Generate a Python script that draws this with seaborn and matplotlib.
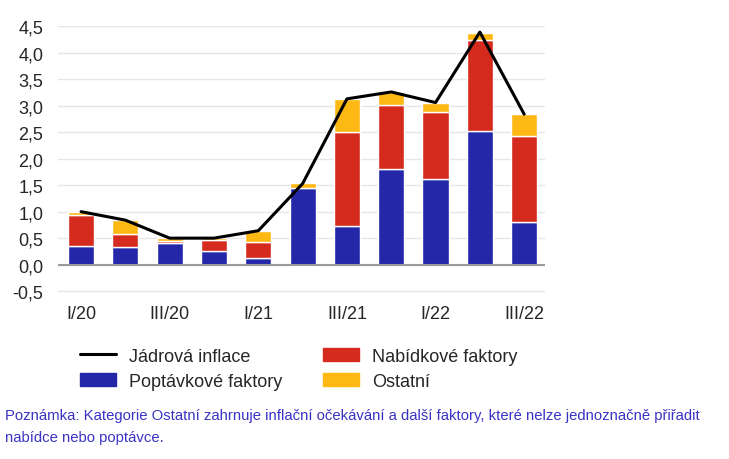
import numpy as np
import pandas as pd
import matplotlib
matplotlib.use("Agg")
import matplotlib.pyplot as plt
import seaborn as sns
from matplotlib.patches import Patch
from matplotlib.lines import Line2D

# Data
kvartaly = ['I/20', 'II/20', 'III/20', 'IV/20', 'I/21', 'II/21', 'III/21', 'IV/21', 'I/22', 'II/22', 'III/22']
poptavkove = [0.36, 0.33, 0.41, 0.26, 0.13, 1.45, 0.73, 1.81, 1.61, 2.53, 0.81]
nabidkove = [0.57, 0.255, 0.04, 0.20, 0.29, -0.03, 1.77, 1.21, 1.27, 1.72, 1.61]
ostatni = [0.07, 0.25, 0.05, 0.04, 0.22, 0.10, 0.63, 0.23, 0.18, 0.13, 0.43]
jadrova = [1.0, 0.84, 0.5, 0.5, 0.64, 1.53, 3.13, 3.26, 3.06, 4.39, 2.84]
popisky = ['I/20', '', 'III/20', '', 'I/21', '', 'III/21', '', 'I/22', '', 'III/22']

sns.set_style("white")
plt.rcParams['font.family'] = ['Liberation Sans', 'DejaVu Sans']

c_blue = '#2427a8'
c_red = '#d52b1e'
c_yellow = '#fdb813'

df = pd.DataFrame({'q': kvartaly, 'pop': poptavkove, 'nab': nabidkove,
                   'ost': ostatni, 'jad': jadrova})
x = np.arange(len(df))
dno_nab = np.where(df['nab'] >= 0, df['pop'], 0)
dno_ost = df['pop'] + df['nab'].clip(lower=0)

fig = plt.figure(figsize=(7.29, 4.60), dpi=100)
ax = fig.add_axes([0.0796, 0.35, 0.668, 0.5907])

w = 0.59
ax.bar(x, df['pop'], width=w, color=c_blue, zorder=2)
ax.bar(x, df['nab'], width=w, bottom=dno_nab, color=c_red, zorder=2)
ax.bar(x, df['ost'], width=w, bottom=dno_ost, color=c_yellow, zorder=2)
sns.lineplot(x=x, y=df['jad'], ax=ax, color='black', linewidth=2.2, zorder=4)

ax.set_xlim(-0.52, 10.47)
ax.set_ylim(-0.63, 4.5)
yt = np.arange(-0.5, 4.51, 0.5)
ax.set_yticks(yt)
ax.set_yticklabels([f'{v:.1f}'.replace('.', ',') for v in yt])
ax.set_xticks(x[::2])
ax.set_xticklabels(popisky[::2])
ax.grid(axis='y', color='#e6e6e6', linewidth=1, zorder=0)
ax.axhline(0, color='#9a9a9a', linewidth=1.5, zorder=3)
for s in ax.spines.values():
    s.set_visible(False)
ax.tick_params(axis='y', length=0, labelsize=13, pad=10.5)
ax.tick_params(axis='x', length=3.6, width=0.8, color='#bbbbbb', labelsize=13, pad=1.5)
ax.set_xlabel('')
ax.set_ylabel('')

handles = [Line2D([0], [0], color='black', linewidth=2.2),
           Patch(color=c_blue),
           Patch(color=c_red),
           Patch(color=c_yellow)]
labels = ['Jádrová inflace', 'Poptávkové faktory', 'Nabídkové faktory', 'Ostatní']
fig.legend(handles, labels, ncol=2, loc='upper left', bbox_to_anchor=(0.0974, 0.262),
           frameon=False, fontsize=13, handlelength=2.0, handleheight=0.7,
           handletextpad=0.72, columnspacing=2.25, labelspacing=0.45, borderpad=0)

barva_pozn = '#3a33c4'
fig.text(0.007, 0.096, 'Poznámka: Kategorie Ostatní zahrnuje inflační očekávání a další faktory, které nelze jednoznačně přiřadit',
         fontsize=10.7, color=barva_pozn, va='center')
fig.text(0.007, 0.047, 'nabídce nebo poptávce.', fontsize=10.7, color=barva_pozn, va='center')

fig.savefig('out.png', dpi=100)
